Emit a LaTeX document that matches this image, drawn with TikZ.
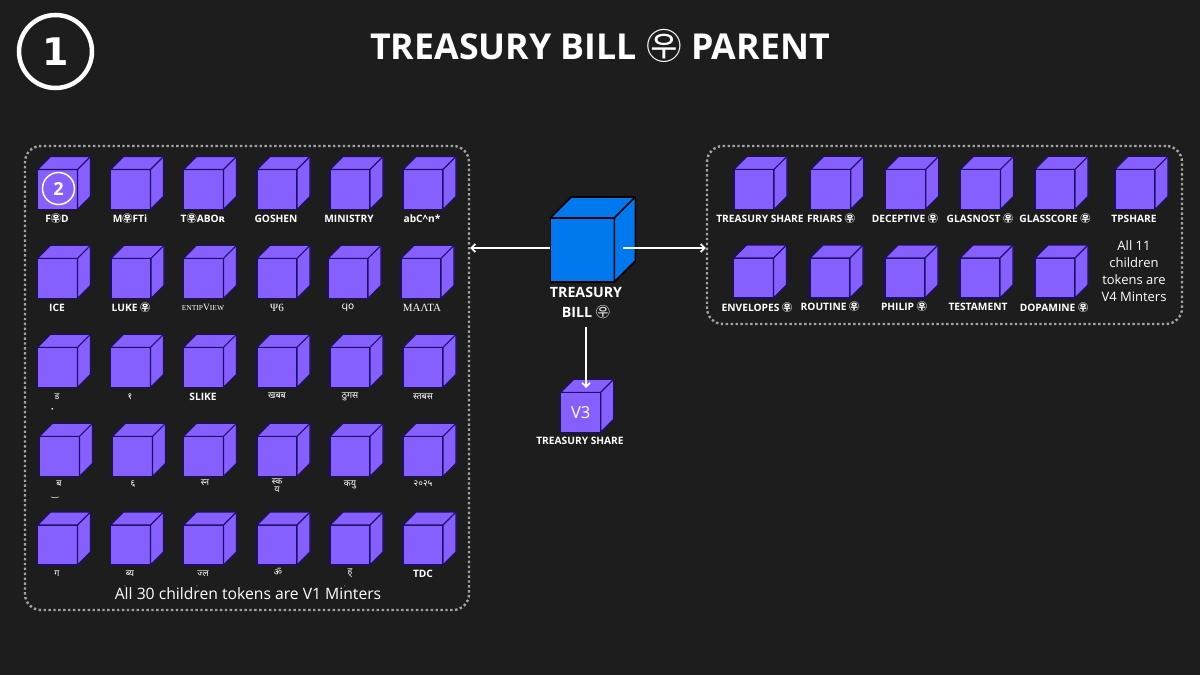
\documentclass[tikz,border=0pt]{standalone}
\usepackage{fontspec}
\usetikzlibrary{arrows.meta}
\setmainfont{Open Sans}
\newfontfamily\cjk{Noto Sans CJK KR}
\newfontfamily\dejavu{DejaVu Sans}
\newfontfamily\oldserif{Liberation Serif}
\newfontfamily\tibet[Script=Devanagari]{Noto Sans}
\definecolor{bgdark}{HTML}{1D1D1D}
\definecolor{cubepurple}{HTML}{8560FF}
\definecolor{cubeedge}{HTML}{1E0F66}
\definecolor{billblue}{HTML}{0078EE}
\definecolor{dotgray}{HTML}{A3A3A3}
\tikzset{
  panel/.style={draw=dotgray,line width=2.4pt,dash pattern=on 2.4pt off 2.5pt,rounded corners=16pt,inner sep=0pt},
  cubeface/.style={fill=cubepurple,draw=cubeedge,line width=1.1pt,line join=round},
  frontface/.style={cubeface,minimum size=40pt,inner sep=0pt,outer sep=0pt},
  billface/.style={fill=billblue,draw=black,line width=1.6pt,minimum size=64pt,inner sep=0pt,outer sep=0pt,line join=round},
  tokenlabel/.style={text=white,font=\fontsize{10.2}{12}\selectfont\bfseries,inner sep=0pt},
  smalltext/.style={text=white,font=\fontsize{13}{17}\selectfont,align=center,inner sep=0pt},
  speck/.style={text=white,font=\dejavu\fontsize{6}{6}\selectfont,inner sep=0pt},
  link/.style={draw=white,line width=1.7pt,-{Straight Barb[length=4pt,width=8pt]}},
}
\newcommand{\postmark}{{\cjk ㉾}}
\newcommand{\postmarkthin}{{\cjk\mdseries ㉾}}
% name, left, top, label x, label y, label
\newcommand{\tokencube}[6]{
  \node[frontface] (#1) at (#2+20,#3+20) {};
  \draw[cubeface] (#1.north west) -- ++(13,-13) -- ++(40,0) -- ++(0,40) -- (#1.south east) -- (#1.north east) -- cycle;
  \draw[cubeface] (#1.north east) -- ++(13,-13);
  \node[tokenlabel] (#1-label) at (#4,#5+0.7) {#6};
}
\newcommand{\tb}[1]{{\tibet\bfseries\fontsize{9}{9}\selectfont #1}}
\begin{document}
\begin{tikzpicture}[x=1pt,y=-1pt]
\useasboundingbox (0,0) rectangle (1200,675);
\fill[bgdark] (0,0) rectangle (1200,675);

\node[draw=white,line width=4.5pt,circle,minimum size=73pt,inner sep=0pt,text=white,font=\dejavu\fontsize{38}{38}\selectfont\bfseries] (stepone) at (55.5,51.5) {1};
\node[text=white,font=\fontsize{35.7}{38}\selectfont\bfseries,inner sep=0pt] (title) at (600,46) {TREASURY BILL \postmarkthin{} PARENT};

\node[panel,minimum width=444pt,minimum height=464pt] (leftpanel) at (247,378) {};
\node[panel,minimum width=475pt,minimum height=178pt] (rightpanel) at (944.5,235) {};

% left panel, thirty children
\foreach \tname/\tx/\ty/\lx/\ly/\ltext in {
  a1/37.5/169.5/57/218/{F\postmark{}D},
  a2/110.5/169.5/130/218/{M\postmark{}FTi},
  a3/183.5/169.5/203/218/{T\postmark{}ABO{\dejavu ʀ}},
  a4/257/169.5/276/218/GOSHEN,
  a5/330/169.5/349/218/MINISTRY,
  a6/403/169.5/422/218/{abC\^{}n*},
  b1/37.5/258.3/57/307/ICE,
  b2/111/258.3/131/307/{LUKE \postmark},
  b3/183.5/258.3/203/307/{\oldserif\mdseries\fontsize{7.5}{8}\selectfont ENTIP{\fontsize{9.5}{9}\selectfont V}IEW},
  b4/257/258.3/277/307/{\oldserif\mdseries\fontsize{11}{12}\selectfont Ψ6},
  b5/328/258.3/348/307/{\dejavu\mdseries\fontsize{10}{12}\selectfont ϥο},
  b6/401/258.3/422/307/{\oldserif\mdseries\fontsize{11}{12}\selectfont ΜΑΛΤΑ},
  c1/37.5/347.3/57/396/{\tb{ड}},
  c2/110.5/347.3/130/396/{\tb{१}},
  c3/183.5/347.3/203/396/SLIKE,
  c4/257/347.3/277/395/{\tb{खबब}},
  c5/330/347.3/350/396/{\tb{ठुगस}},
  c6/403/347.3/423/396/{\tb{स्तबस}},
  d1/39.5/436.3/59/483/{\tb{ब}},
  d2/112.5/436.3/133/483/{\tb{६}},
  d3/183.5/436.3/205/482/{\tb{स्न}},
  d4/257/436.3/277/485/{\shortstack{\tb{स्क}\\\tb{य}}},
  d5/330/436.3/350/484/{\tb{कयु}},
  d6/403/436.3/423/483/{\tb{२०२५}},
  e1/37.5/525/57/573/{\tb{ग}},
  e2/110.5/525/130/573/{\tb{ब्य}},
  e3/183.5/525/203/573/{\tb{ज्ल}},
  e4/257/525/278/571/{\tb{ॐ}},
  e5/330/525/350/573/{\tb{ह्}},
  e6/403/525/423/573/TDC%
}{
  \tokencube{\tname}{\tx}{\ty}{\lx}{\ly}{\ltext}
}
\node[smalltext,font=\fontsize{15.7}{18}\selectfont] (leftnote) at (248,594) {All 30 children tokens are V1 Minters};
% marks that drop below their labels
\node[speck] (dropa) at (52.5,409.5) {•};
\node[speck,font=\dejavu\fontsize{9}{9}\selectfont] (dropb) at (55,498) {‿};
\node[speck,font=\dejavu\fontsize{3}{3}\selectfont] (dropc) at (125,587) {•};
\node[speck,font=\dejavu\fontsize{3}{3}\selectfont] (dropd) at (197,587) {•};
\node[speck,font=\dejavu\fontsize{3}{3}\selectfont] (drope) at (345,587) {•};

% right panel, eleven children
\foreach \tname/\tx/\ty/\lx/\ly/\ltext in {
  f1/734/169.3/760/218/TREASURY SHARE,
  f2/810.7/169.3/831/218/{FRIARS \postmark},
  f3/885.7/169.3/905/218/{DECEPTIVE \postmark},
  f4/960.5/169.3/980/218/{GLASNOST \postmark},
  f5/1035/169.3/1055/218/{GLASSCORE \postmark},
  f6/1115/169.3/1134/218/TPSHARE,
  g1/733.5/258/757/307/{ENVELOPES \postmark},
  g2/810/258/830/306/{ROUTINE \postmark},
  g3/885/258/904/306/{PHILIP \postmark},
  g4/960/258/978/306/TESTAMENT,
  g5/1035/258/1054/307/{DOPAMINE \postmark}%
}{
  \tokencube{\tname}{\tx}{\ty}{\lx}{\ly}{\ltext}
}
\node[smalltext] (rightnote) at (1134,271.5) {All 11\\children\\tokens are\\V4 Minters};

% treasury bill in the middle
\node[billface] (bill) at (582.3,250) {};
\draw[fill=billblue,draw=black,line width=1.6pt,line join=round] (bill.north west) -- ++(21,-21) -- ++(64,0) -- ++(0,64) -- (bill.south east) -- (bill.north east) -- cycle;
\draw[draw=black,line width=1.6pt] (bill.north east) -- ++(21,-21);
\node[text=white,font=\fontsize{14.2}{20}\selectfont\bfseries,align=center,inner sep=0pt] (billlabel) at (586,303) {TREASURY\\BILL \postmarkthin};

\tokencube{share}{560.7}{392.3}{580}{440.3}{TREASURY SHARE}
\node[text=white,font=\fontsize{16.5}{18}\selectfont,inner sep=0pt] (sharelabel) at (share) {V3};

% second step marker
\node[draw=white,line width=1.5pt,circle,minimum size=32pt,inner sep=0pt,text=white,font=\fontsize{18}{18}\selectfont\bfseries] (steptwo) at (58.5,188.5) {2};

\coordinate (leftstart) at ([yshift=2pt]bill.west);
\coordinate (leftend) at (leftpanel.east |- leftstart);
\coordinate (rightstart) at ([xshift=9pt,yshift=2pt]bill.east);
\coordinate (rightend) at (rightpanel.west |- rightstart);
\coordinate (downstart) at (586,327);
\coordinate (downend) at (586,388);
\draw[link] (leftstart) -- (leftend);
\draw[link] (rightstart) -- (rightend);
\draw[link] (downstart) -- (downend);
\end{tikzpicture}
\end{document}
